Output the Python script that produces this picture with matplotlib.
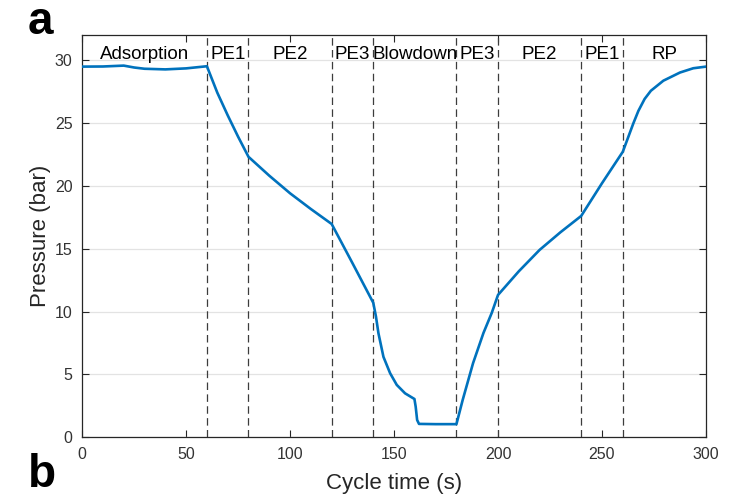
import numpy as np
import matplotlib
matplotlib.use("Agg")
import matplotlib.pyplot as plt

plt.rcParams['font.family'] = ['Liberation Sans', 'DejaVu Sans']

# --- data ---
cycle_time = [0, 10, 20, 25, 30, 40, 50, 60,
              65, 70, 75, 80,
              90, 100, 110, 120,
              130, 140,
              141.3, 142.5, 144.9, 148.1, 151.3, 155.3, 159.8, 160.4, 161.1, 162.0, 170, 180,
              183, 188, 193, 197, 200,
              210, 220, 230, 240,
              250, 260,
              262.7, 265.1, 267.5, 270.5, 273.5, 279.5, 287.5, 293.9, 300]
pressure = [29.47, 29.48, 29.55, 29.4, 29.3, 29.25, 29.33, 29.5,
            27.4, 25.6, 23.9, 22.3,
            20.8, 19.4, 18.15, 16.96,
            13.85, 10.7,
            9.6, 8.27, 6.4, 5.1, 4.17, 3.5, 3.05, 2.44, 1.38, 1.07, 1.05, 1.05,
            2.97, 5.9, 8.3, 9.9, 11.32,
            13.2, 14.9, 16.3, 17.6,
            20.2, 22.7,
            23.9, 24.97, 25.95, 26.9, 27.55, 28.35, 29.0, 29.34, 29.47]

step_bounds = [60, 80, 120, 140, 180, 200, 240, 260]
step_names = ["Adsorption", "PE1", "PE2", "PE3", "Blowdown", "PE3", "PE2", "PE1", "RP"]
step_edges = [0] + step_bounds + [300]

fig = plt.figure(figsize=(7.4, 4.97), dpi=100)
ax = fig.add_axes([0.111, 0.12, 0.843, 0.81])

dark = '#262626'

ax.set_xlim(0, 300)
ax.set_ylim(0, 32)
ax.set_xticks(np.arange(0, 301, 50))
ax.set_yticks(np.arange(0, 31, 5))
ax.yaxis.grid(True, color='#e3e3e3', lw=0.9, zorder=0)
ax.set_axisbelow(True)

for b in step_bounds:
    ax.axvline(b, color='#3c3c3c', lw=0.9, dashes=(6, 3.5), zorder=1)

ax.plot(cycle_time, pressure, color='#0072BD', lw=1.9, zorder=3)

for i, name in enumerate(step_names):
    xc = 0.5 * (step_edges[i] + step_edges[i + 1])
    ax.text(xc, 30.45, name, ha='center', va='center', fontsize=13.5, color='black', zorder=4)

ax.tick_params(direction='in', length=5, width=0.8, top=True, right=True,
               labelsize=11.5, colors=dark, labelcolor='#333333', pad=7)
for s in ax.spines.values():
    s.set_color(dark)
    s.set_linewidth(0.9)

ax.set_xlabel("Cycle time (s)", fontsize=16, color=dark, labelpad=8)
ax.set_ylabel("Pressure (bar)", fontsize=16, color=dark, labelpad=3)

fig.text(0.038, 0.932, "a", fontsize=33, fontweight='bold', ha='left', va='baseline')
fig.text(0.038, 0.0, "b", fontsize=33, fontweight='bold', ha='left', va='bottom')

fig.savefig("out.png", dpi=100)
